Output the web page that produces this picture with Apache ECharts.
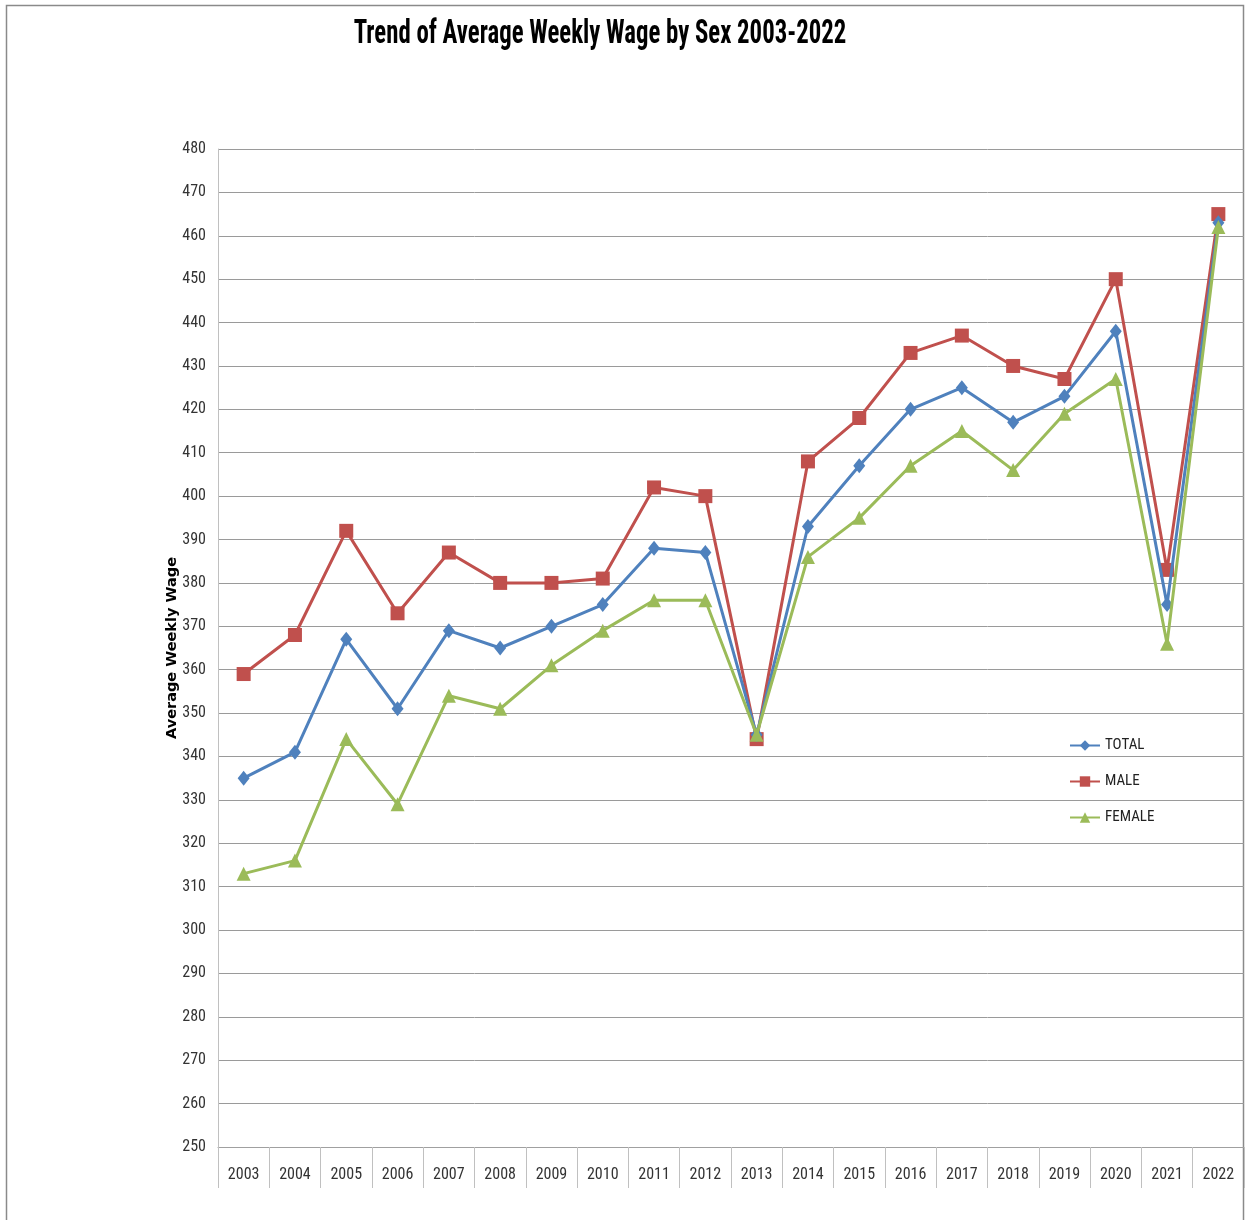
<!DOCTYPE html>
<html><head><meta charset="utf-8">
<script src="https://cdn.jsdelivr.net/npm/echarts@6/dist/echarts.min.js"></script>
<style>html,body{margin:0;padding:0;background:#fff}#c{width:1245px;height:1220px}</style>
</head><body><div id="c"></div>
<script>
const years = ['2003','2004','2005','2006','2007','2008','2009','2010','2011','2012','2013','2014','2015','2016','2017','2018','2019','2020','2021','2022'];
const total  = [335,341,367,351,369,365,370,375,388,387,345,393,407,420,425,417,423,438,375,463];
const male   = [359,368,392,373,387,380,380,381,402,400,344,408,418,433,437,430,427,450,383,465];
const female = [313,316,344,329,354,351,361,369,376,376,345,386,395,407,415,406,419,427,366,462];
const yTicks = {min:250, max:480, interval:10};
const titleText = 'Trend of Average Weekly Wage by Sex 2003-2022';

const narrow = '"Liberation Sans Narrow", "Roboto Condensed", "DejaVu Sans Condensed", sans-serif';
const chart = echarts.init(document.getElementById('c'));
function s(name, data, color, symbol, size){
  return {name, type:'line', data, symbol, symbolSize:size, color,
    lineStyle:{width:3,color}, itemStyle:{color}, z: name==='MALE'?2:(name==='TOTAL'?3:4)};
}
chart.setOption({
  animation:false,
  backgroundColor:'#fff',
  graphic:[
    {type:'rect', shape:{x:6.5,y:5.5,width:1237,height:1240}, style:{fill:'none', stroke:'#8a8a8a', lineWidth:1.5}, silent:true},
    {type:'text', x:600, y:35, scaleX:0.8, scaleY:1.05, style:{text:titleText, fontFamily:narrow, fontWeight:'bold', fontSize:31, fill:'#000', align:'center', verticalAlign:'middle'}}
  ],
  grid:{left:218, right:1, top:149, bottom:73},
  legend:{orient:'vertical', left:1064, top:733, itemGap:21, itemWidth:30, itemHeight:13,
    textStyle:{fontFamily:narrow, fontSize:15, color:'#222'},
    data:[{name:'TOTAL'},{name:'MALE'},{name:'FEMALE'}]},
  xAxis:{type:'category', data:years, boundaryGap:true,
    axisLine:{lineStyle:{color:'#a0a0a0', width:1}},
    axisTick:{show:true, interval:0, length:41, lineStyle:{color:'#c0c0c0'}},
    axisLabel:{interval:0, margin:20, fontFamily:narrow, fontSize:16, color:'#333'},
    splitLine:{show:false}},
  yAxis:{type:'value', min:yTicks.min, max:yTicks.max, interval:yTicks.interval,
    name:'Average Weekly Wage', nameLocation:'middle', nameGap:38, nameRotate:90, nameMoveOverlap:false,
    nameTextStyle:{fontFamily:'"DejaVu Sans", Verdana, sans-serif', fontWeight:'bold', fontSize:14.5, color:'#000'},
    axisLine:{show:true, lineStyle:{color:'#c0c0c0'}},
    axisTick:{show:false},
    axisLabel:{margin:12, fontFamily:narrow, fontSize:16, color:'#333'},
    splitLine:{lineStyle:{color:'#9a9a9a', width:1}}},
  series:[
    s('TOTAL', total, '#4F81BD', 'diamond', [12,15]),
    s('MALE', male, '#C0504D', 'rect', 14),
    s('FEMALE', female, '#9BBB59', 'triangle', 14)
  ]
});
</script></body></html>
